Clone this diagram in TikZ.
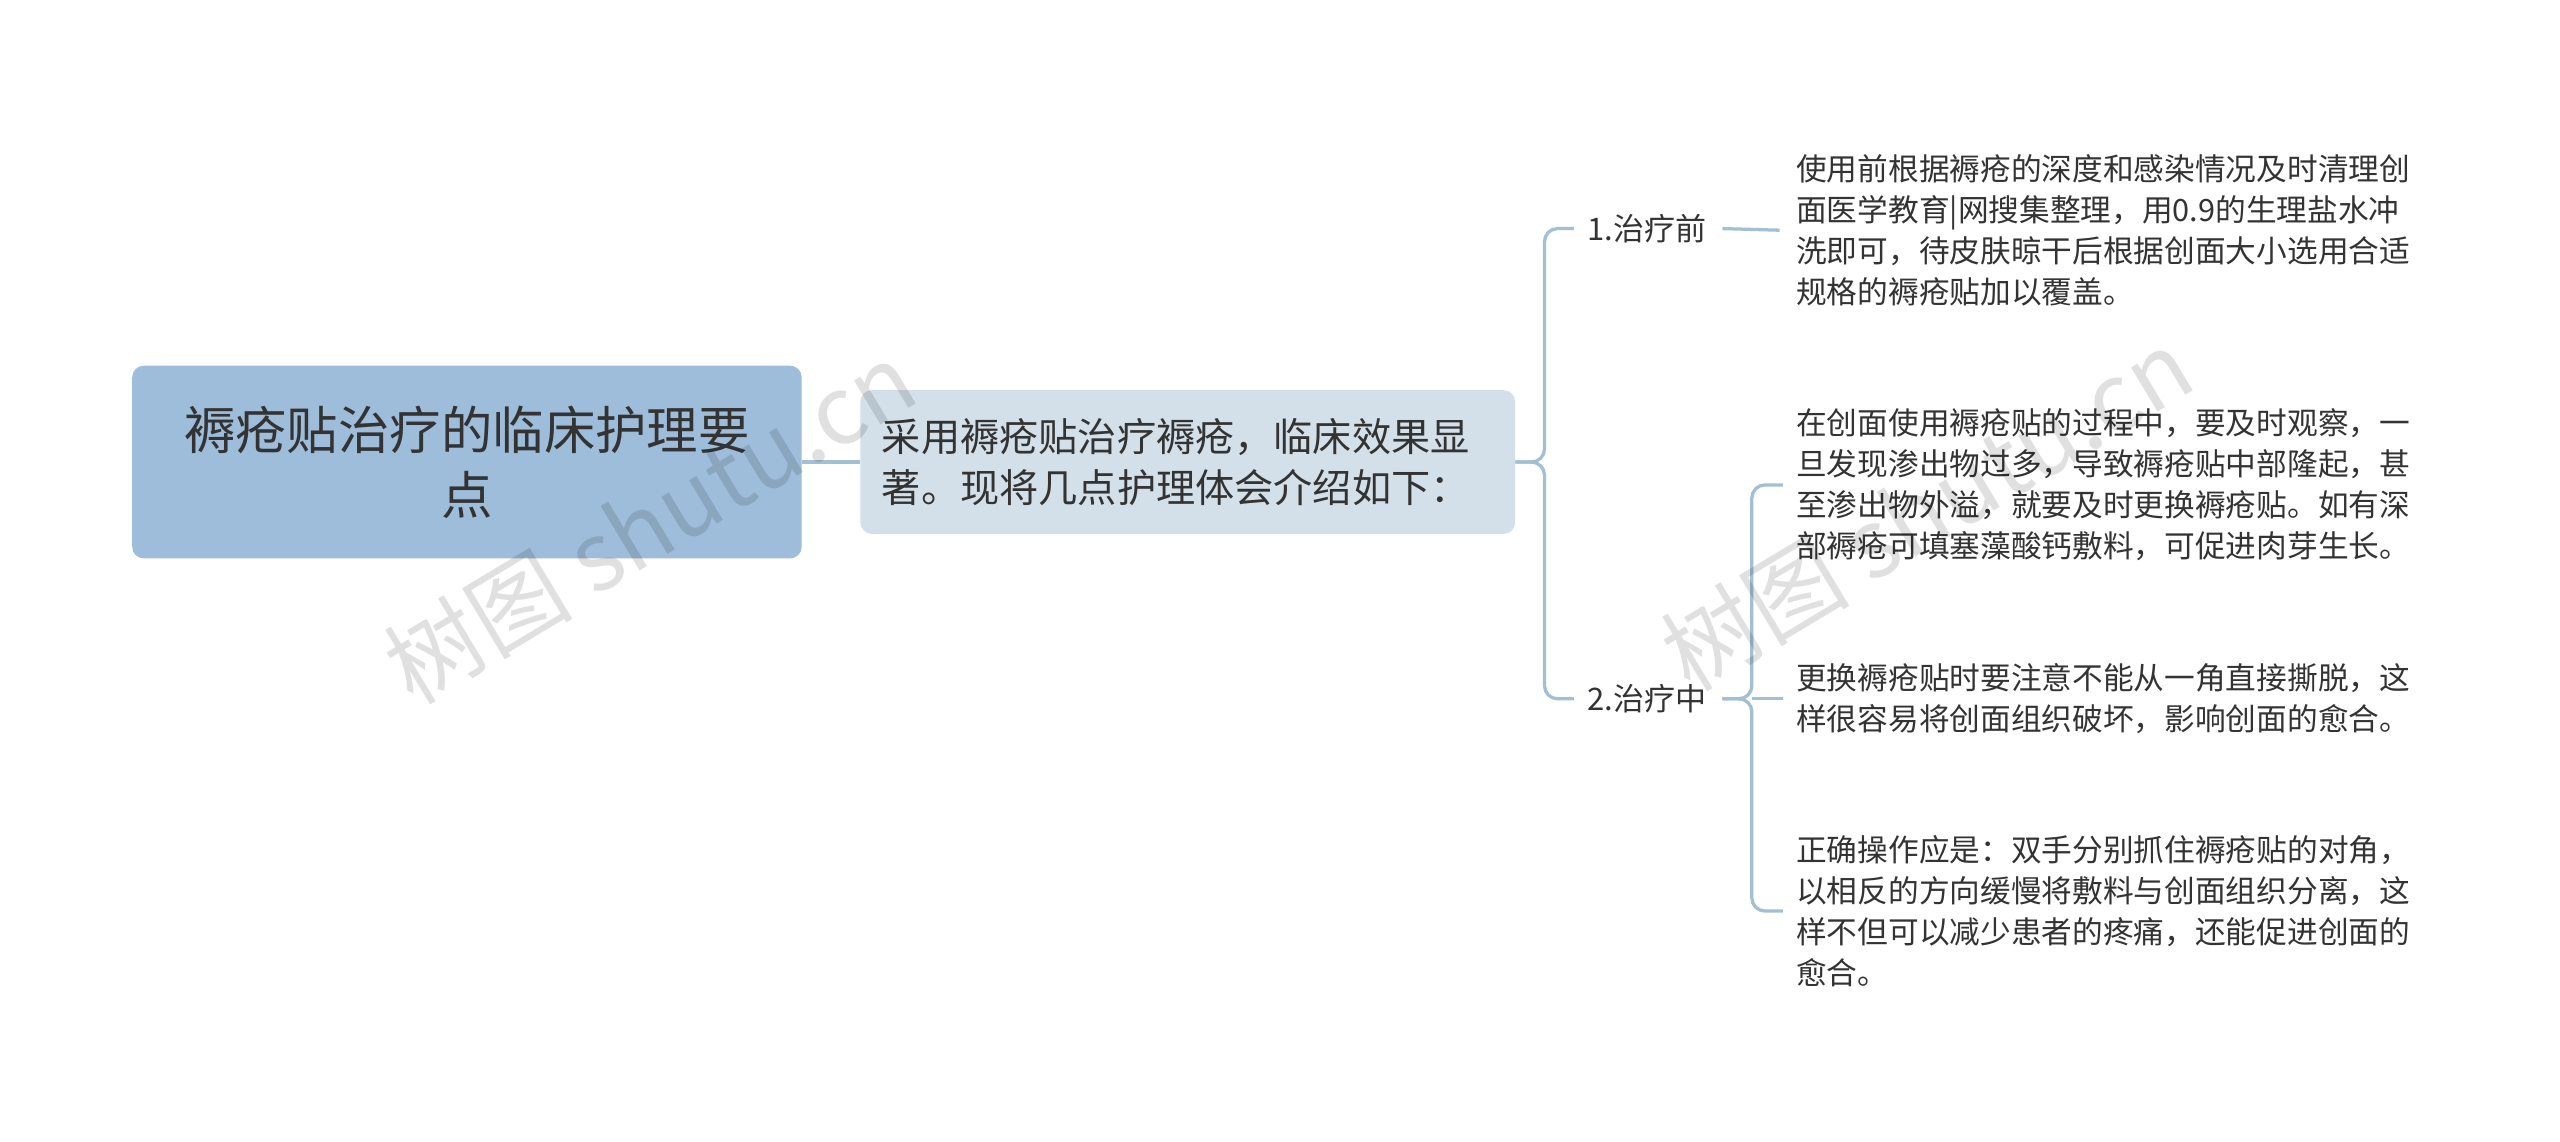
\documentclass[tikz,border=0pt]{standalone}
\usepackage{fontspec}
\setmainfont{Noto Sans CJK SC}
\begin{document}
\begin{tikzpicture}[x=1pt,y=-1pt,
  line/.style={draw=lk,line width=2pt,rounded corners=8pt},
  leaf/.style={anchor=west,align=left,font=\fontsize{18.8}{25}\selectfont,text=txt,inner sep=0pt},
  lbl/.style={anchor=west,font=\fontsize{19}{20}\selectfont,text=txt,inner sep=0pt}]
\definecolor{lk}{HTML}{A3BFD3}
\definecolor{txt}{HTML}{333333}
\definecolor{rootc}{HTML}{9EBDDA}
\definecolor{midc}{HTML}{D3E0EA}
\useasboundingbox (0,0) rectangle (1568,699);
\fill[white] (0,0) rectangle (1568,699);
\node[draw=none,fill=rootc,rounded corners=7pt,minimum width=410pt,minimum height=118pt,align=center,font=\fontsize{31.5}{40}\selectfont,text=txt] (root) at (286,283) {褥疮贴治疗的临床护理要\\点};
\node[fill=midc,rounded corners=7pt,minimum width=401pt,minimum height=88pt,text=txt] (mid) at (727.5,283) {};
\node[anchor=west,align=left,font=\fontsize{24}{31}\selectfont,text=txt,inner sep=0pt] (midt) at (540,283) {采用褥疮贴治疗褥疮，临床效果显\\著。现将几点护理体会介绍如下：};
\node[lbl] (a) at (972,140) {1.治疗前};
\node[lbl] (b) at (972,428) {2.治疗中};
\node[leaf] (l1) at (1100,141) {使用前根据褥疮的深度和感染情况及时清理创\\面医学教育|网搜集整理，用0.9的生理盐水冲\\洗即可，待皮肤晾干后根据创面大小选用合适\\规格的褥疮贴加以覆盖。};
\node[leaf] (l2) at (1100,297) {在创面使用褥疮贴的过程中，要及时观察，一\\旦发现渗出物过多，导致褥疮贴中部隆起，甚\\至渗出物外溢，就要及时更换褥疮贴。如有深\\部褥疮可填塞藻酸钙敷料，可促进肉芽生长。};
\node[leaf] (l3) at (1100,428) {更换褥疮贴时要注意不能从一角直接撕脱，这\\样很容易将创面组织破坏，影响创面的愈合。};
\node[leaf] (l4) at (1100,558) {正确操作应是：双手分别抓住褥疮贴的对角，\\以相反的方向缓慢将敷料与创面组织分离，这\\样不但可以减少患者的疼痛，还能促进创面的\\愈合。};
\draw[line] (root.east) -- (mid.west);
\draw[line] (mid.east) -- (946,283) |- ([xshift=-8pt]a.west);
\draw[line] (mid.east) -- (946,283) |- ([xshift=-8pt]b.west);
\draw[line] (1055,140) -- ([xshift=-10pt]l1.west);
\draw[line] (1055,428) -- (1073,428) |- ([xshift=-8pt]l2.west);
\draw[line] (1055,428) -- (1073,428) |- ([xshift=-8pt]l4.west);
\draw[line] (1073,428) -- ([xshift=-8pt]l3.west);
\foreach \p in {(398,320),(1180,312)}
  \node[rotate=31,text=black,opacity=0.12,font=\fontsize{58}{60}\selectfont] at \p {树图 shutu.cn};
\end{tikzpicture}
\end{document}
